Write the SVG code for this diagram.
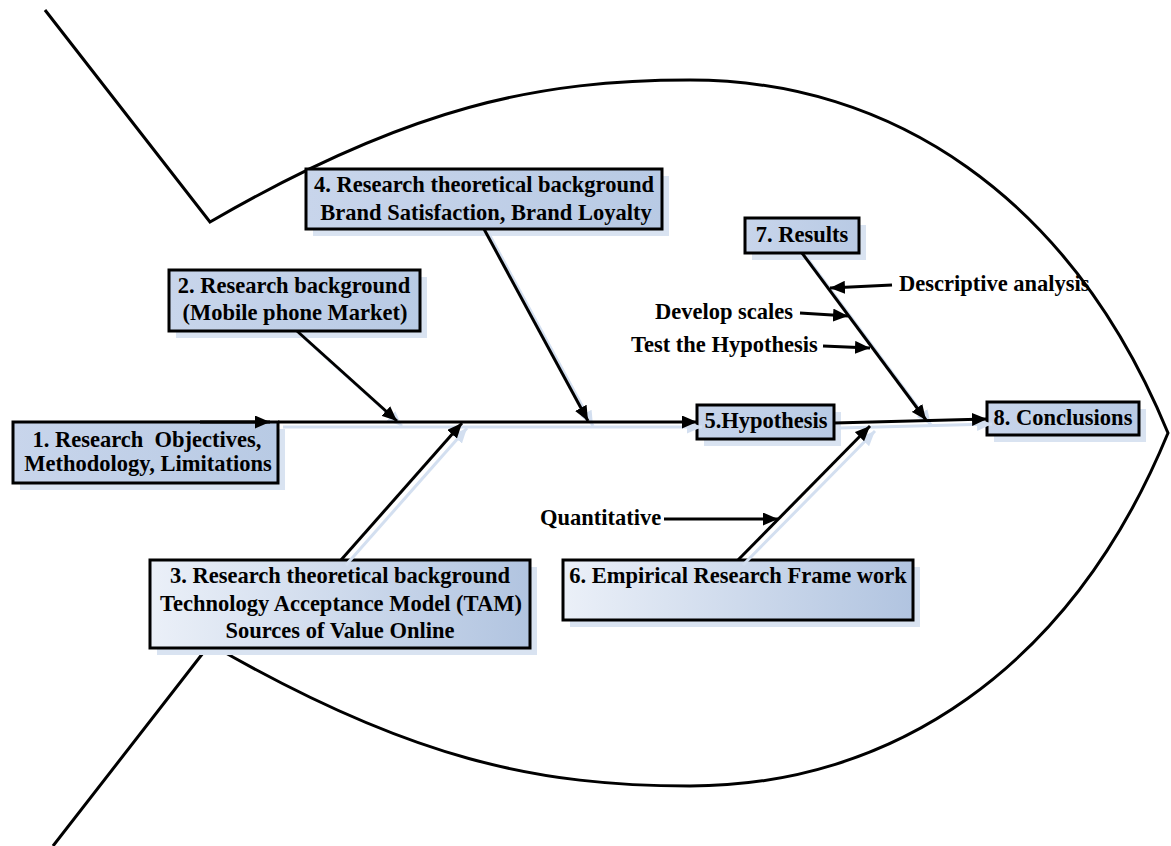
<svg xmlns="http://www.w3.org/2000/svg" width="1171" height="846" viewBox="0 0 1171 846">
  <style>
    .outline { fill: none; stroke: #000; stroke-width: 3; stroke-linejoin: miter; }
    .link { fill: none; stroke: #000; stroke-width: 3; marker-end: url(#arrow); }
    .link-shadow { fill: none; stroke: #d3dff0; stroke-width: 3; marker-end: url(#arrow-shadow); }
    .box { stroke: #000; stroke-width: 3; }
    .box-shadow { fill: #d9e3f1; stroke: none; }
    .t { font-family: "Liberation Serif", "Times New Roman", serif; font-weight: bold; font-size: 22.5px; fill: #000; text-anchor: middle; }
    .lbl { font-family: "Liberation Serif", "Times New Roman", serif; font-weight: bold; font-size: 22.5px; fill: #000; }
  </style>
  <defs>
    <marker id="arrow" markerUnits="userSpaceOnUse" markerWidth="16" markerHeight="13" refX="15" refY="6.5" orient="auto">
      <path d="M0,0 L15,6.5 L0,13 z" fill="#000"/>
    </marker>
    <marker id="arrow-shadow" markerUnits="userSpaceOnUse" markerWidth="16" markerHeight="13" refX="15" refY="6.5" orient="auto">
      <path d="M0,0 L15,6.5 L0,13 z" fill="#d3dff0"/>
    </marker>
    <linearGradient id="fill-soft" x1="0" y1="0" x2="1" y2="0">
      <stop offset="0" stop-color="#c8d5eb"/>
      <stop offset="1" stop-color="#b8cae4"/>
    </linearGradient>
    <linearGradient id="fill-wide" x1="0" y1="0" x2="1" y2="0">
      <stop offset="0" stop-color="#ebf0f8"/>
      <stop offset="1" stop-color="#b1c4e0"/>
    </linearGradient>
  </defs>

  <!-- fish body and tail -->
  <g id="fish-outline">
    <path class="outline" d="M45,10 L210,222 C410,106 540,80 690,80 C890,80 1070,195 1168,433 C1070,671 890,786 690,786 C540,786 410,760 210,644 L53,846"/>
  </g>

  <g id="node-1">
    <rect class="box-shadow" x="20" y="429" width="265" height="61"/>
    <rect class="box" x="13" y="422" width="265" height="61" fill="url(#fill-soft)"/>
    <text class="t" x="147" y="447" style="white-space:pre">1. Research  Objectives,</text>
    <text class="t" x="148" y="471">Methodology, Limitations</text>
  </g>

  <g id="node-2">
    <rect class="box-shadow" x="176" y="277" width="251" height="61"/>
    <rect class="box" x="169" y="270" width="251" height="61" fill="url(#fill-soft)"/>
    <text class="t" x="294" y="293">2. Research background</text>
    <text class="t" x="295" y="320">(Mobile phone Market)</text>
  </g>

  <g id="node-4">
    <rect class="box-shadow" x="313" y="176" width="356" height="60"/>
    <rect class="box" x="306" y="169" width="356" height="60" fill="url(#fill-soft)"/>
    <text class="t" x="484" y="192">4. Research theoretical background</text>
    <text class="t" x="486" y="220">Brand Satisfaction, Brand Loyalty</text>
  </g>

  <g id="node-3">
    <rect class="box-shadow" x="157" y="567" width="380" height="88"/>
    <rect class="box" x="150" y="560" width="380" height="88" fill="url(#fill-wide)"/>
    <text class="t" x="340" y="583">3. Research theoretical background</text>
    <text class="t" x="341" y="611">Technology Acceptance Model (TAM)</text>
    <text class="t" x="340" y="638">Sources of Value Online</text>
  </g>

  <g id="node-5">
    <rect class="box-shadow" x="704" y="412" width="137" height="34"/>
    <rect class="box" x="697" y="405" width="137" height="34" fill="url(#fill-soft)"/>
    <text class="t" x="766" y="428">5.Hypothesis</text>
  </g>

  <g id="node-6">
    <rect class="box-shadow" x="570" y="567" width="350" height="60"/>
    <rect class="box" x="563" y="560" width="350" height="60" fill="url(#fill-wide)"/>
    <text class="t" x="738" y="583">6. Empirical Research Frame work</text>
  </g>

  <g id="node-7">
    <rect class="box-shadow" x="752" y="225" width="114" height="35"/>
    <rect class="box" x="745" y="218" width="114" height="35" fill="url(#fill-soft)"/>
    <text class="t" x="802" y="242">7. Results</text>
  </g>

  <g id="node-8">
    <rect class="box-shadow" x="994" y="409" width="152" height="33"/>
    <rect class="box" x="987" y="402" width="152" height="33" fill="url(#fill-soft)"/>
    <text class="t" x="1063" y="425">8. Conclusions</text>
  </g>

  <!-- spine, bones and label arrows -->
  <g id="connectors">
    <g id="connector-shadows">
      <path class="link-shadow" d="M283,427 L702,427"/>
      <path class="link-shadow" d="M839,428 L992,424"/>
      <path class="link-shadow" d="M302,336 L402,426"/>
      <path class="link-shadow" d="M489,234 L593,426"/>
      <path class="link-shadow" d="M346,565 L467,428"/>
      <path class="link-shadow" d="M807,258 L931,425"/>
      <path class="link-shadow" d="M743,565 L875,431"/>
    </g>
    <path class="link" d="M200,422 L270,422"/>
    <path class="link" d="M278,422 L697,422"/>
    <path class="link" d="M834,423 L987,419"/>
    <path class="link" d="M297,331 L397,421"/>
    <path class="link" d="M484,229 L588,421"/>
    <path class="link" d="M341,560 L462,423"/>
    <path class="link" d="M802,253 L926,420"/>
    <path class="link" d="M738,560 L870,426"/>
    <path class="link" d="M892,285 L830,288"/>
    <path class="link" d="M800,313 L848,316"/>
    <path class="link" d="M823,346 L870,348"/>
    <path class="link" d="M664,519 L778,519"/>
  </g>

  <!-- side labels on the bones -->
  <g id="labels">
    <text class="lbl" x="899" y="291">Descriptive analysis</text>
    <text class="lbl" x="655" y="319">Develop scales</text>
    <text class="lbl" x="631" y="352">Test the Hypothesis</text>
    <text class="lbl" x="540" y="525">Quantitative</text>
  </g>
</svg>
